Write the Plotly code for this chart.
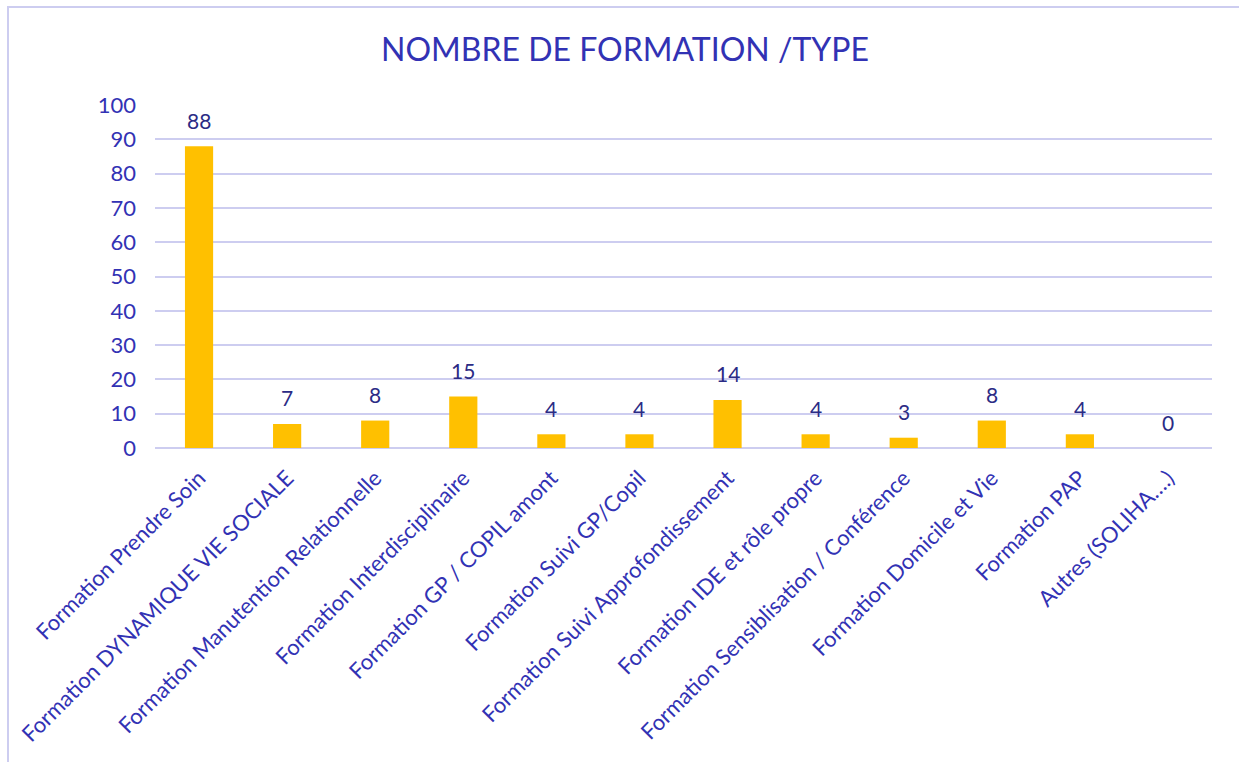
import plotly.graph_objects as go

# Données
categories = [
    "Formation Prendre Soin",
    "Formation DYNAMIQUE VIE SOCIALE",
    "Formation Manutention Relationnelle",
    "Formation Interdisciplinaire",
    "Formation GP / COPIL amont",
    "Formation Suivi GP/Copil",
    "Formation Suivi Approfondissement",
    "Formation IDE et rôle propre",
    "Formation Sensiblisation / Conférence",
    "Formation Domicile et Vie",
    "Formation PAP",
    "Autres (SOLIHA….)",
]
nombre = [88, 7, 8, 15, 4, 4, 14, 4, 3, 8, 4, 0]
y_ticks = list(range(0, 101, 10))

W, H = 1239, 762
ml, mr, mt, mb = 155, 27, 105, 314
pw, ph = W - ml - mr, H - mt - mb

bleu = "#3232b4"
grille = "#cdcdf0"
police = "Lato, 'Noto Sans', sans-serif"

fig = go.Figure(go.Bar(
    x=categories, y=nombre,
    marker=dict(color="#ffc000", line=dict(width=0)),
    hoverinfo="x+y",
))

# étiquettes de données, un peu au-dessus des barres
for c, v in zip(categories, nombre):
    fig.add_annotation(x=c, y=v, text=str(v), showarrow=False,
                       yanchor="middle", yshift=26,
                       font=dict(family=police, size=21, color="#2b2b85"))

# cadre du graphique (bord gauche et haut)
def px_x(p):
    return (p - ml) / pw

def px_y(p):
    return 1 - (p - mt) / ph

fig.add_shape(type="line", xref="paper", yref="paper",
              x0=px_x(8), x1=px_x(8), y0=px_y(6), y1=px_y(H + 5),
              line=dict(color=grille, width=2))
fig.add_shape(type="line", xref="paper", yref="paper",
              x0=px_x(7), x1=px_x(W + 5), y0=px_y(7), y1=px_y(7),
              line=dict(color=grille, width=2))

fig.update_layout(
    width=W, height=H,
    paper_bgcolor="white", plot_bgcolor="white",
    margin=dict(l=ml, r=mr, t=mt, b=mb, autoexpand=False),
    bargap=0.68,
    showlegend=False,
    title=dict(text="NOMBRE DE FORMATION /TYPE", x=625 / W, xanchor="center",
               y=1 - 50 / H, yanchor="middle", yref="container",
               font=dict(family=police, size=32, color=bleu)),
    font=dict(family=police, color=bleu),
)
fig.update_xaxes(type="category", tickangle=-45, tickfont=dict(size=22, color=bleu),
                 showgrid=False, showline=False, ticks="", ticklabelstandoff=12)
fig.update_yaxes(range=[0, 100], tickvals=y_ticks, tickfont=dict(size=22, color=bleu),
                 showgrid=True, gridcolor=grille, gridwidth=2,
                 zeroline=True, zerolinecolor=grille, zerolinewidth=2,
                 showline=False, ticks="", ticklabelstandoff=18)

fig.write_html("out.html", config={"displayModeBar": False},
               post_script="document.body.style.margin='0';")
